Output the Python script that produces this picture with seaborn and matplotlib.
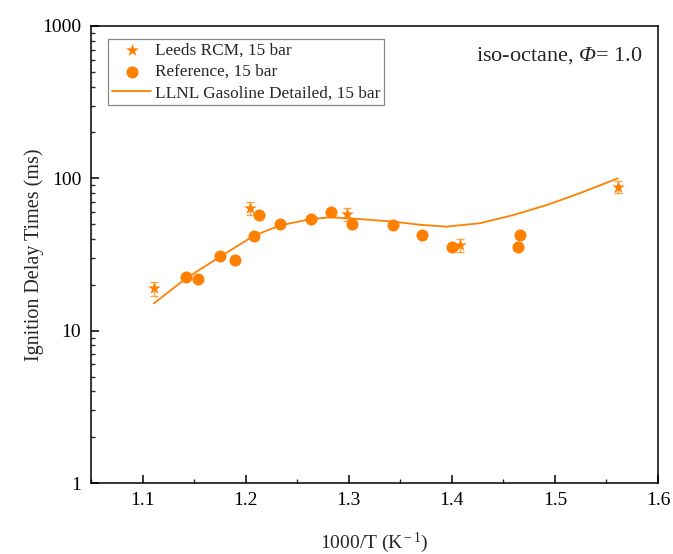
import matplotlib
matplotlib.use("Agg")
import matplotlib.pyplot as plt
import seaborn as sns
import numpy as np
import pandas as pd
from matplotlib.ticker import MultipleLocator, LogLocator, NullFormatter, FixedLocator, FixedFormatter

# ---- data ----
leeds_x = [1.111, 1.204, 1.298, 1.408, 1.561]
leeds_y = [19.0, 63.6, 58.1, 36.5, 88.2]
leeds_err = [2.0, 6.0, 5.5, 3.5, 8.0]

ref_x = [1.142, 1.154, 1.175, 1.190, 1.208, 1.213, 1.233, 1.263, 1.283, 1.303,
         1.343, 1.371, 1.400, 1.466, 1.464]
ref_y = [22.4, 21.8, 30.9, 29.1, 42.0, 57.2, 49.9, 54.1, 59.8, 49.9,
         49.2, 42.7, 35.4, 42.7, 35.6]

model_x = [1.111, 1.142, 1.175, 1.208, 1.233, 1.263, 1.282, 1.303, 1.343, 1.370,
           1.395, 1.427, 1.460, 1.492, 1.524, 1.561]
model_y = [15.1, 22.0, 30.5, 42.0, 49.0, 54.0, 55.5, 54.5, 52.0, 49.5,
           48.2, 50.7, 57.5, 66.8, 79.8, 100.0]

labels = ["Leeds RCM, 15 bar", "Reference, 15 bar", "LLNL Gasoline Detailed, 15 bar"]
x_ticks = [1.1, 1.2, 1.3, 1.4, 1.5, 1.6]
y_ticks = [1, 10, 100, 1000]
y_ticklabels = ["1", "10", "100", "1000"]

color = "#FF8000"

sns.set_theme(style="white")
plt.rcParams["font.family"] = ["Liberation Serif", "DejaVu Serif"]
plt.rcParams["mathtext.fontset"] = "custom"
plt.rcParams["mathtext.rm"] = "Liberation Serif"
plt.rcParams["mathtext.it"] = "Liberation Serif:italic"
plt.rcParams["mathtext.sf"] = "Liberation Serif:italic"

fig = plt.figure(figsize=(6.73, 5.54), dpi=100)
ax = fig.add_axes([91 / 673, 1 - 483 / 554, (658 - 91) / 673, (483 - 26) / 554])

leeds_df = pd.DataFrame({"x": leeds_x, "y": leeds_y})
ref_df = pd.DataFrame({"x": ref_x, "y": ref_y})
model_df = pd.DataFrame({"x": model_x, "y": model_y})

ax.errorbar(leeds_x, leeds_y, yerr=leeds_err, fmt="none", ecolor=color, alpha=0.7,
            elinewidth=1.0, capsize=3, capthick=1.0, zorder=2)
sns.scatterplot(data=leeds_df, x="x", y="y", marker="*", s=95, color=color,
                edgecolor=color, linewidth=0, ax=ax, label=labels[0], zorder=3)
sns.scatterplot(data=ref_df, x="x", y="y", marker="o", s=75, color=color,
                edgecolor=color, linewidth=0, ax=ax, label=labels[1], zorder=3)
sns.lineplot(data=model_df, x="x", y="y", color=color, linewidth=1.3, ax=ax,
             label=labels[2], zorder=2)

ax.set_yscale("log")
ax.set_xlim(1.05, 1.6)
ax.set_ylim(1, 1000)

ax.xaxis.set_major_locator(FixedLocator(x_ticks))
ax.xaxis.set_minor_locator(MultipleLocator(0.05))
ax.yaxis.set_major_locator(FixedLocator(y_ticks))
ax.yaxis.set_major_formatter(FixedFormatter(y_ticklabels))
ax.yaxis.set_minor_locator(LogLocator(base=10, subs=np.arange(2, 10)))
ax.yaxis.set_minor_formatter(NullFormatter())

ax.tick_params(axis="both", which="major", direction="in", length=6, width=1.1,
               labelsize=14, colors="black", bottom=True, left=True,
               top=False, right=False)
ax.tick_params(axis="both", which="minor", direction="in", length=3, width=1.0,
               bottom=True, left=True, top=False, right=False)
ax.tick_params(axis="x", which="major", pad=6.5)
ax.tick_params(axis="y", which="major", pad=7)

for sp in ax.spines.values():
    sp.set_visible(True)
    sp.set_color("black")
    sp.set_linewidth(1.1)

ax.set_xlabel("1000/T (K$^{\\rm -1}$)", fontsize=14)
ax.set_ylabel("Ignition Delay Times (ms)", fontsize=14.5)
ax.xaxis.set_label_coords(0.5, -0.104)
ax.yaxis.set_label_coords(-0.083, 0.5)

ax.text(0.972, 0.935, r"iso-octane, $\mathsf{\Phi}$= 1.0", transform=ax.transAxes,
        ha="right", va="center", fontsize=16)

leg = ax.legend(loc="upper left", bbox_to_anchor=(0.03, 0.9715), fontsize=12.4,
                frameon=True, fancybox=False, edgecolor="#888888", framealpha=1,
                borderpad=0.22, labelspacing=0.3, handlelength=2.3,
                handletextpad=0.2, borderaxespad=0)
leg.get_frame().set_linewidth(0.9)

fig.savefig("out.png", dpi=100)
